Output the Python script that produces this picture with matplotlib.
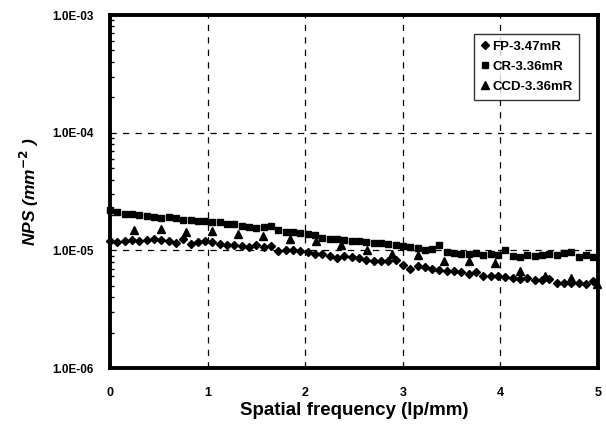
import numpy as np
import matplotlib.pyplot as plt
from matplotlib.ticker import FixedLocator, FuncFormatter, LogLocator, NullFormatter

plt.rcParams['font.family'] = ['Liberation Sans', 'DejaVu Sans']

# NPS values in units of 1e-5 mm^-2, sampled every 0.075 lp/mm
fp_step = 0.075
fp_nps = [1.21, 1.18, 1.20, 1.22, 1.19, 1.23, 1.25, 1.22, 1.20, 1.16,
          1.24, 1.14, 1.17, 1.19, 1.18, 1.13, 1.10, 1.11, 1.08, 1.07,
          1.10, 1.06, 1.09, 0.98, 1.00, 1.01, 0.98, 0.96, 0.94, 0.93,
          0.90, 0.86, 0.89, 0.88, 0.86, 0.83, 0.82, 0.82, 0.82, 0.83,
          0.75, 0.70, 0.73, 0.72, 0.70, 0.68, 0.67, 0.67, 0.65, 0.63,
          0.65, 0.60, 0.60, 0.61, 0.59, 0.58, 0.57, 0.58, 0.56, 0.56,
          0.57, 0.53, 0.53, 0.53, 0.53, 0.52, 0.55]
cr_nps = [2.22, 2.10, 2.02, 2.05, 1.98, 1.96, 1.93, 1.90, 1.91, 1.88,
          1.80, 1.82, 1.79, 1.76, 1.75, 1.74, 1.68, 1.66, 1.62, 1.58,
          1.56, 1.58, 1.62, 1.50, 1.42, 1.43, 1.40, 1.38, 1.36, 1.28,
          1.25, 1.24, 1.22, 1.21, 1.20, 1.18, 1.16, 1.15, 1.14, 1.10,
          1.08, 1.06, 1.04, 1.00, 1.02, 1.10, 0.97, 0.95, 0.94, 0.93,
          0.95, 0.92, 0.93, 0.92, 1.00, 0.90, 0.88, 0.91, 0.90, 0.92,
          0.93, 0.91, 0.95, 0.96, 0.87, 0.92, 0.88]
ccd_freq = [0.25, 0.52, 0.78, 1.05, 1.31, 1.57, 1.84, 2.11, 2.37, 2.63,
            2.89, 3.16, 3.42, 3.68, 3.94, 4.20, 4.46, 4.72, 4.99]
ccd_nps = [1.50, 1.52, 1.42, 1.45, 1.38, 1.33, 1.25, 1.20, 1.10, 1.00,
           0.93, 0.91, 0.81, 0.81, 0.78, 0.67, 0.60, 0.58, 0.52]

y_ticks = [1e-6, 1e-5, 1e-4, 1e-3]
x_ticks = [0, 1, 2, 3, 4, 5]

fp_freq = np.arange(len(fp_nps)) * fp_step
cr_freq = np.arange(len(cr_nps)) * fp_step
scale = 1e-5

fig = plt.figure(figsize=(6.06, 4.25), dpi=100)
ax = fig.add_axes([0.1815, 0.134, 0.8055, 0.8307])

ax.plot(fp_freq, np.array(fp_nps) * scale, 'D', color='black', ms=4.0,
        label='FP-3.47mR', clip_on=False)
ax.plot(cr_freq, np.array(cr_nps) * scale, 's', color='black', ms=4.2,
        label='CR-3.36mR', clip_on=False)
ax.plot(ccd_freq, np.array(ccd_nps) * scale, '^', color='black', ms=6,
        label='CCD-3.36mR', clip_on=False)

ax.set_yscale('log')
ax.set_xlim(0, 5)
ax.set_ylim(1e-6, 1e-3)

# dashed grid
for x in x_ticks[1:-1]:
    ax.axvline(x, color='black', ls=(0, (5, 5)), lw=0.9)
for y in y_ticks[1:-1]:
    ax.axhline(y, color='black', ls=(0, (5, 5)), lw=0.9)

ax.yaxis.set_major_locator(FixedLocator(y_ticks))
ax.yaxis.set_major_formatter(FuncFormatter(lambda v, p: '%.1E' % v))
ax.yaxis.set_minor_locator(LogLocator(base=10, subs=np.arange(2, 10)))
ax.yaxis.set_minor_formatter(NullFormatter())
ax.xaxis.set_major_locator(FixedLocator(x_ticks))

ax.tick_params(axis='y', which='major', direction='in', length=0, pad=12,
               labelsize=8.5)
ax.tick_params(axis='y', which='minor', direction='in', length=3, width=1)
ax.tick_params(axis='x', length=0, pad=14, labelsize=9)
for lab in ax.get_xticklabels() + ax.get_yticklabels():
    lab.set_fontweight('bold')

for s in ax.spines.values():
    s.set_linewidth(2.8)

ax.set_xlabel('Spatial frequency (lp/mm)', fontsize=13.5, fontweight='bold',
              labelpad=2)
ax.set_ylabel(r'NPS (mm$^{\mathbf{-2}}$ )', fontsize=12.5, fontweight='bold',
              style='italic', labelpad=8)

leg = ax.legend(loc='upper right', bbox_to_anchor=(0.975, 0.965),
                frameon=True, fancybox=False, handlelength=0.6,
                handletextpad=0.3, borderpad=0.5, labelspacing=0.6,
                prop={'weight': 'bold', 'size': 9.5})
leg.get_frame().set_edgecolor('black')
leg.get_frame().set_linewidth(1.0)

fig.savefig('out.png', dpi=100)
